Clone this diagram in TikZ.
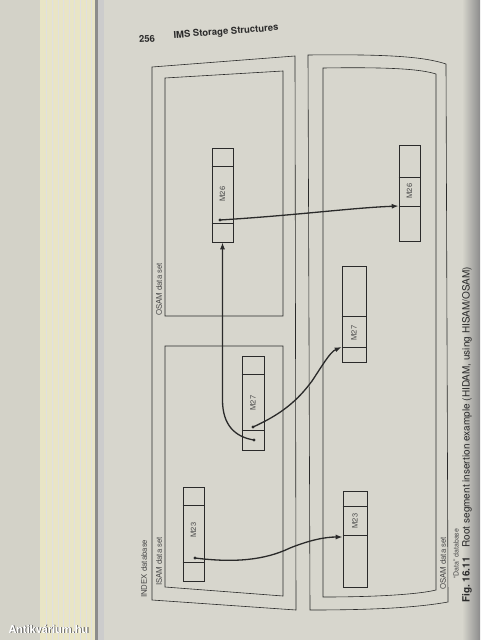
\documentclass[tikz,border=0pt]{standalone}
\usepackage{fontspec}
\setmainfont{TeX Gyre Heros}
\usetikzlibrary{arrows.meta}
\definecolor{pagebg}{HTML}{D7D6CD}
\definecolor{stackbg}{HTML}{E9E5C6}
\definecolor{farleft}{HTML}{D3D2C8}
\definecolor{ink}{HTML}{2A2A2A}
\begin{document}
\begin{tikzpicture}[x=1pt,y=-1pt,
  frame/.style={draw=ink, line width=0.6pt},
  seg/.style={draw=ink, line width=0.6pt, minimum width=21pt, minimum height=94pt, inner sep=0pt},
  divline/.style={draw=ink, line width=0.6pt},
  seglbl/.style={rotate=90, font=\fontsize{7.5}{8}\selectfont, text=ink!85, inner sep=0pt},
  lbl/.style={rotate=90, anchor=west, font=\fontsize{7.8}{8}\selectfont, text=ink!85, inner sep=0pt},
  link/.style={line width=1.3pt, draw=ink, -{Latex[length=7pt,width=5pt]}},
  dot/.style={circle, fill=ink, inner sep=0pt, minimum size=3.2pt}]
% page background
\useasboundingbox (0,0) rectangle (480,640);
\fill[pagebg] (0,0) rectangle (480,640);
\fill[farleft] (0,0) rectangle (40,640);
\fill[stackbg] (40,0) rectangle (95,640);
\foreach \xx in {46,52,58,63,69,74,80,86,91}{\draw[black!12, line width=0.3pt] (\xx,0) -- (\xx,640);}
\fill[black!45] (95,0) rectangle (98,640);
\fill[black!20] (98,0) rectangle (104,640);
\shade[left color=pagebg, right color=black!45] (462,0) rectangle (480,640);

% header
\node[font=\fontsize{9.5}{10}\bfseries, rotate=4.3, text=ink] (pnum) at (147,39) {256};
\node[font=\fontsize{9.5}{10}\bfseries, rotate=4.3, text=ink] (head) at (226,32) {IMS Storage Structures};

% left database (INDEX)
\draw[frame] (152,67) -- (295,56) -- (296,610) -- (152,600) -- cycle;
\draw[frame] (165,78) -- (283,71) -- (283,316) -- (165,316) -- cycle;
\draw[frame] (165,346) -- (283,346) -- (283,596) -- (165,587) -- cycle;
% right database (Data)
\draw[frame] (308,55) .. controls (390,54) and (425,57) .. (446,64) -- (448,602)
   .. controls (420,607) and (380,610) .. (310,610) -- cycle;
\draw[frame] (323,68) .. controls (390,67) and (420,69) .. (436,74) -- (436,590)
   .. controls (420,594) and (380,597) .. (323,597) -- cycle;

% labels
\node[lbl] (lindex) at (144,598) {INDEX database};
\node[lbl] (lisam) at (159,586) {ISAM data set};
\node[lbl] (losam1) at (159,316) {OSAM data set};
\node[lbl] (losam2) at (443,590) {OSAM data set};
\node[lbl, font=\fontsize{7}{7}\selectfont] (ldata) at (456,579) {``Data'' database};
\node[lbl, font=\fontsize{10}{10}\selectfont, text=ink] (cap) at (467,603)
  {\textbf{Fig.\ 16.11}\quad Root segment insertion example (HIDAM, using HISAM/OSAM)};

% segments, left
\node[seg] (m26a) at (222.5,195) {};
\draw[divline] (m26a.west |- 0,166) -- (m26a.east |- 0,166);
\draw[divline] (m26a.west |- 0,223) -- (m26a.east |- 0,223);
\node[seglbl] (t26a) at (222.5,194) {M26};

\node[seg, minimum width=22pt] (m27a) at (253,403) {};
\draw[divline] (m27a.west |- 0,374) -- (m27a.east |- 0,374);
\draw[divline] (m27a.west |- 0,430) -- (m27a.east |- 0,430);
\node[seglbl] (t27a) at (253,403) {M27};

\node[seg] (m23a) at (193.5,534) {};
\draw[divline] (m23a.west |- 0,505) -- (m23a.east |- 0,505);
\draw[divline] (m23a.west |- 0,562) -- (m23a.east |- 0,562);
\node[seglbl] (t23a) at (193.5,530) {M23};

% segments, right
\node[seg, minimum height=96pt] (m26b) at (409.5,193) {};
\draw[divline] (m26b.west |- 0,177) -- (m26b.east |- 0,177);
\draw[divline] (m26b.west |- 0,206) -- (m26b.east |- 0,206);
\node[seglbl] (t26b) at (409.5,191) {M26};

\node[seg, minimum width=24pt, minimum height=96pt] (m27b) at (354,314) {};
\draw[divline] (m27b.west |- 0,316) -- (m27b.east |- 0,316);
\draw[divline] (m27b.west |- 0,347) -- (m27b.east |- 0,347);
\node[seglbl] (t27b) at (354,333) {M27};

\node[seg, minimum width=24pt, minimum height=96pt] (m23b) at (355,539) {};
\draw[divline] (m23b.west |- 0,506) -- (m23b.east |- 0,506);
\draw[divline] (m23b.west |- 0,535) -- (m23b.east |- 0,535);
\node[seglbl] (t23b) at (355,521) {M23};

% pointer origins
\node[dot] (d26) at (220,220) {};
\node[dot] (d27a) at (253,427) {};
\node[dot] (d27b) at (254,440) {};
\node[dot] (d23) at (195,558) {};

% connectors
\draw[link] (d26.center) .. controls (300,215) and (350,208) .. (m26b.west |- 0,206);
\draw[link] (d27b.center) .. controls (235,437) and (222.5,425) .. (222.5,400) -- (m26a.south);
\draw[link] (d27a.center) .. controls (282,414) and (298,400) .. (312,381)
   .. controls (322,366) and (330,352) .. (m27b.west |- 0,347);
\draw[link] (d23.center) .. controls (235,563) and (265,560) .. (290,548)
   .. controls (310,540) and (325,537) .. (m23b.west |- 0,537);

% watermark
\node[font=\fontsize{11}{12}\bfseries, text=black!70, anchor=west] (wm0) at (5.8,629.8) {Antikvárium.hu};
\node[font=\fontsize{11}{12}\bfseries, text=white, anchor=west] (wm) at (5,629) {Antikvárium.hu};
\end{tikzpicture}
\end{document}
